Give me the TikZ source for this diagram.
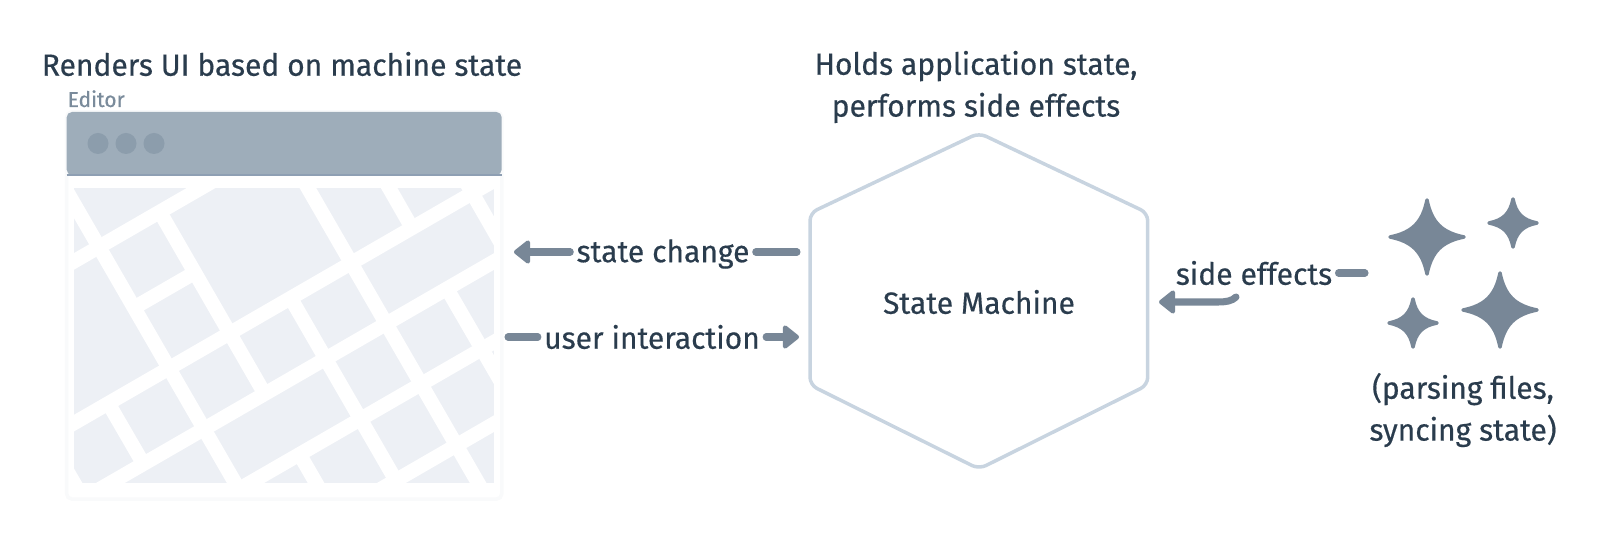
\documentclass[tikz,border=0pt]{standalone}
\usepackage{fontspec}
\setmainfont{Fira Sans}[FakeBold=0.45, FakeStretch=0.98]
\usetikzlibrary{arrows.meta,positioning}
\definecolor{inkdark}{HTML}{2A3C4D}
\definecolor{inkgrey}{HTML}{7A8B9B}
\definecolor{flowgrey}{HTML}{788797}
\definecolor{barblue}{HTML}{9EADBA}
\definecolor{barline}{HTML}{8E9FB3}
\definecolor{dotblue}{HTML}{8C9DAC}
\definecolor{hexblue}{HTML}{C8D4E0}
\definecolor{mapgrey}{HTML}{EDF0F5}
\definecolor{shadowgrey}{HTML}{F9FAFB}
\tikzset{
  caption/.style={text=inkdark, font=\fontsize{8.7}{11.9}\selectfont, inner sep=0pt, align=center},
  flowlabel/.style={text=inkdark, font=\fontsize{8.7}{11.9}\selectfont, inner ysep=0pt, inner xsep=1.6pt},
  flow/.style={draw=flowgrey, line width=2pt, line cap=round},
  flowtip/.style={flow, -{Triangle[length=5pt, width=7.6pt, round]}},
  road/.style={draw=white, line width=4.1pt},
  sparkle/.style={fill=flowgrey, draw=flowgrey, line width=1pt, line join=round}
}
\begin{document}
\begin{tikzpicture}[x=0.01cm, y=-0.01cm]
  \useasboundingbox (0,0) rectangle (1600,540);

  % editor window
  \node (window) [draw=shadowgrey, fill=white, rounded corners=1.5pt, minimum width=4.35cm, minimum height=3.87cm, inner sep=0pt, line width=1pt] at (284.2,305.5) {};
  \fill[barblue, rounded corners=1.5pt] (66.7,175) -- (66.7,112) -- (501.7,112) -- (501.7,175) -- cycle;
  \draw[barline, line width=0.3pt] (66.7,175) -- (501.7,175);
  \foreach \dotx in {98,126,154}
    \fill[dotblue] (\dotx,143.5) circle (10.5);

  % map
  \begin{scope}[shift={(40,80)}, x=0.00333cm, y=-0.00333cm]
    \clip (101,325) rectangle (1365,1212);
    \fill[mapgrey] (101,325) rectangle (1365,1212);
    \foreach \xa/\ya/\xb/\yb in {0/604/1500/-262, 0/1090/1500/224, 0/1333/1500/467, 500/1286/1500/709, 900/1301/1500/954, 283/684/465/579,
        3/200/638/1300, 733/200/1368/1300, 360/396/675/943, 780/1125/881/1300, 753/655/1125/1300,
        1035/300/1118/445, 1223/627/1439/1000, 1276/300/1404/523, 205/971/311/1154, 38/1100/154/1300}
      \draw[road] (\xa,\ya) -- (\xb,\yb);
  \end{scope}

  % state machine
  \draw[hexblue, line width=1pt, rounded corners=2.2pt] (979,133) -- (1147.7,213) -- (1147.7,385) -- (979,469) -- (810,385) -- (810,213) -- cycle;
  \node (machine) [caption] at (979,302) {State Machine};

  % captions
  \node (renders) [caption] at (282,64) {Renders UI based on machine state};
  \node (holds) [caption] at (976,87) {Holds application state,\\performs side effects};
  \node (editor) [text=inkgrey, font=\fontsize{6.1}{7}\selectfont, inner sep=0pt, anchor=base west] at (67,107) {Editor};
  \node (parsing) [caption] at (1463,410) {(parsing files,\\syncing state)};

  % sparkles
  \foreach \starx/\stary/\starr in {1427/237/37, 1513/223/24, 1413/323/24, 1500/310/37} {
    \begin{scope}[shift={(\starx,\stary)}, scale=\starr]
      \filldraw[sparkle] (0,-1) .. controls (0.12,-0.4) and (0.4,-0.12) .. (1,0)
        .. controls (0.4,0.12) and (0.12,0.4) .. (0,1)
        .. controls (-0.12,0.4) and (-0.4,0.12) .. (-1,0)
        .. controls (-0.4,-0.12) and (-0.12,-0.4) .. (0,-1) -- cycle;
    \end{scope}
  }

  % flows
  \node (change) [flowlabel] at (663,254) {state change};
  \node (interaction) [flowlabel] at (652,337) {user interaction};
  \node (effects) [flowlabel] at (1254,273) {side effects};
  \coordinate (changeout) at (797,252);
  \coordinate (changein) at (514,252);
  \coordinate (interout) at (508,337);
  \coordinate (interin) at (799,337);
  \coordinate (effectsout) at (1365,273);
  \coordinate (effectsin) at (1159,302);
  \coordinate (effectsbend) at (1236,297);

  \draw[flow] (changeout) -- (change.east |- changeout);
  \draw[flowtip] (change.west |- changein) -- (changein);
  \draw[flow] (interout) -- (interaction.west);
  \draw[flowtip] (interaction.east) -- (interin);
  \draw[flow] (effectsout) -- (effects.east |- effectsout);
  \draw[flowtip] (effectsbend) .. controls (1232,301) and (1226,302) .. (1218,302) -- (effectsin);
\end{tikzpicture}
\end{document}
